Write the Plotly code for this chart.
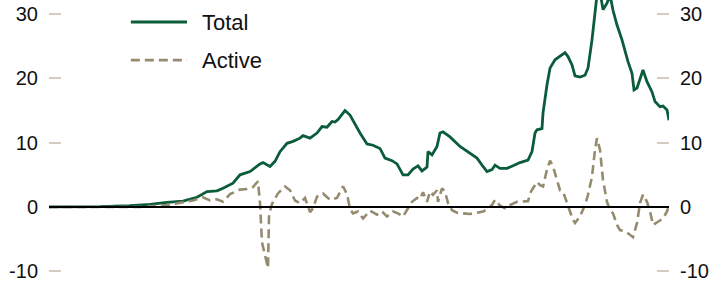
import plotly.graph_objects as go

# period index (approx. months from start of sample)
total_t = [0, 10.5, 25.5, 40.5, 50.5, 59, 67, 74, 79, 84, 87, 92, 95.5, 100.5, 105.5, 107, 110.5, 113,
           115.5, 119, 122, 125.5, 127, 130.5, 134, 136.5, 139, 141.5, 143, 144.5, 148, 150.5, 153,
           155.5, 159, 162, 165.5, 168, 171.5, 174, 177, 179.5, 182, 184.5, 186.5, 189, 189.5, 191.5,
           194, 195.5, 197, 200.5, 205.5, 210.5, 214, 217, 219, 221.5, 223, 225.5, 229, 232, 235.5,
           239.5, 241.5, 243, 244, 246.5, 247, 249, 250.5, 253, 255.5, 258, 259.5, 261.5, 263, 265.5,
           268, 269.5, 271.5, 273, 274, 275.5, 277, 279, 280.5, 282, 284, 286.5, 288, 289.5, 291.5,
           292.5, 294, 295.5, 297, 299, 301.5, 303, 305.5, 307, 309, 310]
total_v = [0, 0, 0.05, 0.2, 0.4, 0.7, 0.9, 1.5, 2.4, 2.5, 2.9, 3.7, 5.0, 5.5, 6.7, 6.9, 6.3, 7.1,
           8.6, 9.9, 10.2, 10.7, 11.1, 10.7, 11.5, 12.5, 12.4, 13.3, 13.2, 13.6, 15.0, 14.3, 12.8,
           11.5, 9.8, 9.6, 9.1, 7.6, 7.2, 6.7, 5.0, 5.0, 5.9, 6.4, 5.6, 6.2, 8.6, 8.1,
           9.4, 11.5, 11.7, 10.9, 9.4, 8.4, 7.6, 6.3, 5.5, 5.8, 6.5, 6.0, 6.0, 6.4, 6.9,
           7.3, 8.6, 11.5, 12.0, 12.2, 14.6, 19.0, 21.6, 22.9, 23.4, 24.0, 23.4, 22.1, 20.4, 20.2,
           20.5, 21.6, 26.0, 30.1, 33.0, 33.5, 30.7, 31.7, 33.0, 30.6, 28.3, 26.0, 24.2, 22.6, 20.8,
           18.2, 18.5, 19.8, 21.3, 19.5, 17.9, 16.4, 15.6, 15.7, 15.1, 13.5]

active_t = [0, 25.5, 45.5, 59, 65.5, 72, 77, 80.5, 84, 87, 90.5, 95.5, 99, 102, 104.5, 105.5, 106.5,
            108, 109, 109.5, 110, 111, 112, 114.5, 118, 120.5, 123, 125.5, 128, 130.5, 132, 134, 137,
            140.5, 144, 147, 149, 150.5, 152, 154.5, 157, 160.5, 164, 166.5, 169, 172, 174.5, 177,
            179.5, 181.5, 184, 185.5, 187, 189, 190.5, 192, 194, 194.5, 196.5, 198, 199.5, 201.5,
            204, 207, 210.5, 214, 217, 219, 221.5, 223, 225.5, 228, 230.5, 234, 236.5, 239.5, 241,
            242.5, 244, 245.5, 247, 249, 250.5, 252, 254, 255.5, 257, 259, 260.5, 262, 263, 265.5,
            268, 269.5, 271.5, 273, 274, 275.5, 277, 279, 280.5, 282, 284, 285.5, 288, 289.5, 292,
            294, 295.5, 297, 299, 300.5, 302, 304.5, 307, 309, 309.5]
active_v = [0, 0, 0, 0.3, 0.6, 1.0, 1.5, 1.0, 1.2, 0.8, 2.0, 2.7, 2.8, 3.1, 4.0, 0.6, -5.5,
            -7.5, -9.0, -9.5, -1.5, 0.0, 0.8, 2.1, 3.2, 2.6, 1.0, 0.6, 1.4, -0.8, -0.2, 1.6, 2.1,
            1.1, 1.4, 3.2, 2.0, -0.3, -1.0, -0.7, -1.8, -0.6, -1.2, -0.7, -1.5, -0.7, -1.0, -1.5,
            -0.2, 0.8, 1.4, 1.2, 2.3, 0.8, 2.4, 1.9, 2.6, 0.8, 2.9, 2.4, 0.6, -0.5,
            -0.9, -1.0, -1.1, -0.9, -0.7, -0.4, 0.3, 1.1, 0.2, -0.2, 0.3, 0.8, 0.8, 0.9, 2.4,
            3.2, 3.9, 3.4, 3.2, 5.8, 7.2, 6.3, 4.2, 2.6, 2.4, 0.8, -0.7, -2.0, -2.5, -1.5,
            0.3, 1.9, 4.7, 8.9, 10.7, 8.9, 4.2, 0.8, -0.5, -1.0, -2.8, -3.6, -3.8, -4.1, -4.7,
            -2.5, 0.6, 1.9, 0.8, -0.7, -2.8, -2.3, -1.8, -0.7, -0.2]

y_ticks = [-10, 0, 10, 20, 30]
y_tick_labels = ["-10", "0", "10", "20", "30"]
series_names = ["Total", "Active"]

GREEN = "#0a5c3a"
TAN = "#958b6f"
TICK = "#d4cdbd"
FONT = dict(family="Liberation Sans, Arial, sans-serif", size=20, color="#111111")
LEG_FONT = dict(family="Liberation Sans, Arial, sans-serif", size=22, color="#111111")

fig = go.Figure()
fig.add_trace(go.Scatter(x=total_t, y=total_v, mode="lines", name=series_names[0],
                         line=dict(color=GREEN, width=2.8), showlegend=False))
fig.add_trace(go.Scatter(x=active_t, y=active_v, mode="lines", name=series_names[1],
                         line=dict(color=TAN, width=2.6, dash="9px,5px"), showlegend=False))
# invisible trace to activate the right axis
fig.add_trace(go.Scatter(x=[total_t[0]], y=[total_v[0]], yaxis="y2", mode="lines",
                         line=dict(width=0), showlegend=False, hoverinfo="skip"))

yrange = [-12.3, 32.2]
axis_common = dict(range=yrange, tickvals=y_ticks, ticktext=y_tick_labels, ticks="inside",
                   ticklen=12, tickwidth=1.5, tickcolor=TICK, showgrid=False, showline=False,
                   tickfont=FONT, ticklabelstandoff=10)

fig.update_layout(
    width=717, height=286,
    margin=dict(l=49, r=48, t=0, b=0),
    paper_bgcolor="white", plot_bgcolor="white",
    xaxis=dict(range=[0, 310], visible=False, showgrid=False, zeroline=False),
    yaxis=dict(**axis_common, zeroline=False),
    yaxis2=dict(**axis_common, overlaying="y", side="right", zeroline=False),
    showlegend=False,
)

# zero line
fig.add_hline(y=0, line=dict(color="black", width=2))

# manual legend
legend_items = [(series_names[0], GREEN, "solid", 0.923), (series_names[1], TAN, "9px,5px", 0.790)]
for name, col, dash, yy in legend_items:
    fig.add_shape(type="line", xref="paper", yref="paper", x0=0.132, x1=0.2226, y0=yy, y1=yy,
                  line=dict(color=col, width=2.8, dash=dash))
    fig.add_annotation(xref="paper", yref="paper", x=0.2435, y=yy, text=name, showarrow=False,
                       xanchor="left", yanchor="middle", font=LEG_FONT)

fig.write_html("out.html", config={"displayModeBar": False},
               post_script="document.body.style.margin='0';document.body.style.overflow='hidden';")
